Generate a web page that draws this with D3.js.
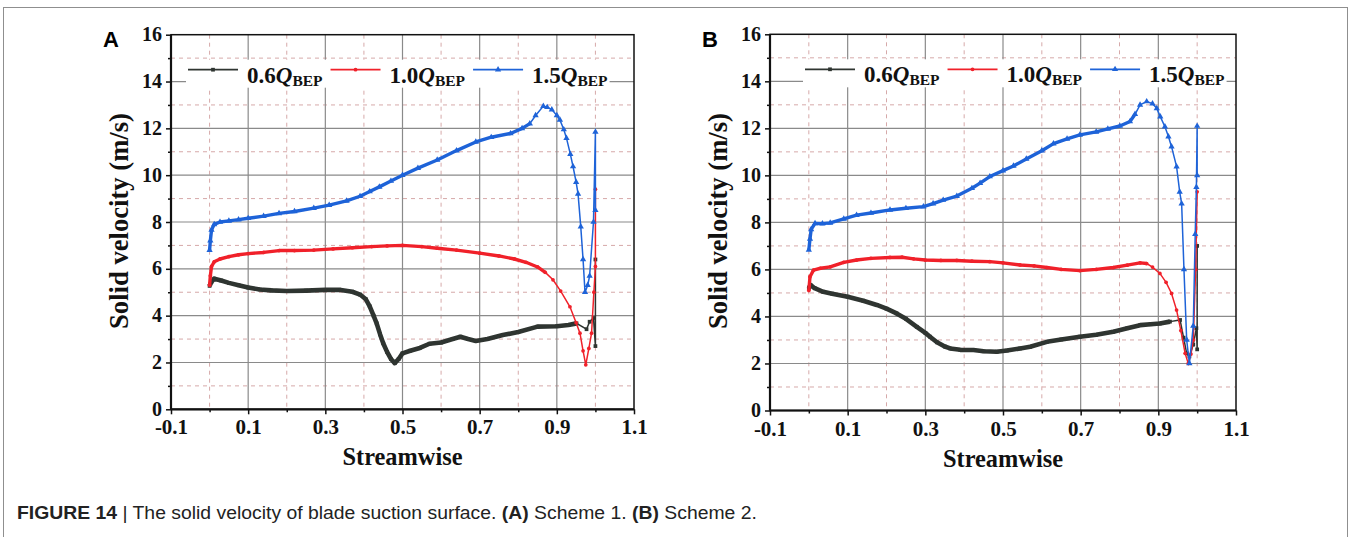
<!DOCTYPE html>
<html>
<head>
<meta charset="utf-8">
<script src="https://cdn.jsdelivr.net/npm/d3@7"></script>
<style>
  body { margin: 0; background: #fff; }
  svg { display: block; }
</style>
</head>
<body>
<svg id="fig" width="1351" height="537"></svg>
<script>
// axis ticks
const xTicks = [-0.1, 0.1, 0.3, 0.5, 0.7, 0.9, 1.1];
const xMinor = [0, 0.2, 0.4, 0.6, 0.8, 1.0];
const yTicks = [0, 2, 4, 6, 8, 10, 12, 14, 16];
const yMinor = [1, 3, 5, 7, 9, 11, 13, 15];
const flowRates = ['0.6', '1.0', '1.5'];

// Scheme 1 (panel A), [streamwise, solid velocity m/s]
const schemeA_06 = [[0.0,5.27],[0.005,5.45],[0.012,5.58],[0.03,5.5],[0.05,5.4],[0.075,5.3],[0.1,5.2],[0.13,5.12],[0.16,5.08],[0.2,5.05],[0.25,5.07],[0.3,5.1],[0.34,5.1],[0.37,5.02],[0.39,4.9],[0.405,4.7],[0.415,4.4],[0.425,4.0],[0.433,3.67],[0.442,3.2],[0.45,2.82],[0.46,2.45],[0.47,2.15],[0.48,1.97],[0.49,2.15],[0.5,2.39],[0.52,2.5],[0.545,2.62],[0.57,2.8],[0.6,2.85],[0.63,3.0],[0.65,3.1],[0.67,3.0],[0.69,2.92],[0.72,3.0],[0.76,3.17],[0.8,3.3],[0.85,3.53],[0.9,3.55],[0.93,3.6],[0.951,3.67],[0.977,3.42],[0.985,3.74],[0.995,3.9],[1.0,2.7],[1.0,6.4]];
const schemeA_10 = [[0.0,5.3],[0.002,5.7],[0.005,6.1],[0.012,6.3],[0.027,6.42],[0.05,6.52],[0.075,6.6],[0.1,6.65],[0.14,6.7],[0.18,6.78],[0.22,6.78],[0.27,6.8],[0.32,6.85],[0.37,6.9],[0.42,6.95],[0.46,6.98],[0.5,7.0],[0.55,6.95],[0.59,6.88],[0.64,6.8],[0.7,6.67],[0.75,6.55],[0.79,6.42],[0.82,6.28],[0.85,6.08],[0.87,5.85],[0.89,5.53],[0.91,5.05],[0.934,4.38],[0.95,3.7],[0.96,3.25],[0.968,2.5],[0.975,1.9],[0.983,2.6],[0.99,3.25],[0.996,5.0],[1.0,6.1],[1.0,9.4]];
const schemeA_15 = [[0.0,6.8],[0.002,7.2],[0.005,7.66],[0.012,7.9],[0.027,8.0],[0.05,8.05],[0.075,8.1],[0.1,8.16],[0.14,8.25],[0.18,8.37],[0.22,8.45],[0.27,8.59],[0.31,8.72],[0.355,8.9],[0.39,9.1],[0.415,9.3],[0.44,9.5],[0.47,9.75],[0.5,10.0],[0.54,10.3],[0.59,10.65],[0.64,11.05],[0.69,11.42],[0.73,11.62],[0.78,11.78],[0.81,12.0],[0.83,12.2],[0.845,12.55],[0.865,12.95],[0.875,12.9],[0.887,12.8],[0.9,12.55],[0.908,12.36],[0.918,11.95],[0.925,11.58],[0.935,10.9],[0.942,10.37],[0.95,9.7],[0.955,9.2],[0.962,7.8],[0.968,6.4],[0.973,5.0],[0.98,5.3],[0.985,5.7],[0.995,8.0],[1.0,11.85],[1.0,8.5]];

// Scheme 2 (panel B)
const schemeB_06 = [[0.0,5.2],[0.004,5.34],[0.015,5.2],[0.037,5.05],[0.06,4.97],[0.1,4.84],[0.14,4.67],[0.175,4.49],[0.2,4.33],[0.226,4.13],[0.25,3.9],[0.278,3.56],[0.3,3.3],[0.312,3.14],[0.33,2.9],[0.35,2.72],[0.364,2.64],[0.39,2.58],[0.424,2.57],[0.45,2.52],[0.484,2.5],[0.51,2.55],[0.544,2.64],[0.57,2.71],[0.613,2.92],[0.65,3.02],[0.698,3.14],[0.74,3.22],[0.784,3.35],[0.82,3.5],[0.853,3.63],[0.88,3.67],[0.904,3.7],[0.93,3.78],[0.956,3.85],[0.965,3.1],[0.973,2.43],[0.98,2.3],[0.99,2.8],[0.998,3.5],[1.0,2.6],[1.0,7.0]];
const schemeB_10 = [[0.0,5.1],[0.003,5.69],[0.012,5.97],[0.03,6.05],[0.055,6.11],[0.09,6.3],[0.123,6.4],[0.16,6.47],[0.209,6.51],[0.24,6.52],[0.27,6.45],[0.3,6.4],[0.34,6.38],[0.381,6.38],[0.42,6.35],[0.466,6.33],[0.5,6.28],[0.544,6.19],[0.58,6.15],[0.613,6.08],[0.65,6.0],[0.698,5.95],[0.74,6.0],[0.784,6.08],[0.82,6.18],[0.853,6.28],[0.87,6.25],[0.885,6.1],[0.904,5.83],[0.92,5.45],[0.934,4.98],[0.947,4.27],[0.958,3.4],[0.969,2.43],[0.977,2.0],[0.984,2.4],[0.99,3.0],[0.996,6.0],[1.0,9.3]];
const schemeB_15 = [[0.0,6.83],[0.003,7.3],[0.006,7.7],[0.016,7.96],[0.035,7.95],[0.055,7.98],[0.09,8.15],[0.123,8.31],[0.16,8.4],[0.209,8.53],[0.25,8.6],[0.295,8.67],[0.32,8.8],[0.346,8.95],[0.381,9.12],[0.42,9.45],[0.441,9.67],[0.466,9.95],[0.5,10.2],[0.527,10.4],[0.56,10.7],[0.6,11.05],[0.63,11.35],[0.665,11.55],[0.698,11.72],[0.74,11.85],[0.77,11.98],[0.801,12.1],[0.827,12.29],[0.84,12.6],[0.853,13.0],[0.87,13.14],[0.885,13.05],[0.896,12.85],[0.905,12.5],[0.917,12.07],[0.926,11.65],[0.934,11.22],[0.947,10.37],[0.955,9.3],[0.96,8.8],[0.966,6.0],[0.973,3.0],[0.98,2.0],[0.99,3.6],[0.995,7.5],[0.998,9.5],[1.0,12.1],[1.0,10.0]];

const panels = [
  { label: 'A', left: 171, right: 634, top: 34.7, bottom: 409.3, legendX: 188, data: [schemeA_06, schemeA_10, schemeA_15] },
  { label: 'B', left: 770, right: 1236, top: 34.3, bottom: 410.5, legendX: 805, data: [schemeB_06, schemeB_10, schemeB_15] },
];

const styles = [
  { color: '#2f3531', symbol: d3.symbolSquare, size: 14, band: 4.6, dense: 0.955 },
  { color: '#f0212a', symbol: d3.symbolCircle, size: 11, band: 3.4, dense: 0.88 },
  { color: '#1e63d8', symbol: d3.symbolTriangle, size: 17, band: 3.4, dense: 0.84 },
];

const serif = "'Liberation Serif', 'Times New Roman', serif";
const sans = "'Liberation Sans', Arial, Helvetica, sans-serif";

const svg = d3.select('#fig');

// outer frame
svg.append('rect')
  .attr('x', 3.5).attr('y', 7.5)
  .attr('width', 1344).attr('height', 545)
  .attr('fill', 'none')
  .attr('stroke', '#8f8f8f')
  .attr('stroke-width', 1);

// shrink or grow a text until it is `w` pixels long
function fitWidth(sel, w) {
  const fs = +sel.attr('font-size');
  const len = sel.node().getComputedTextLength();
  sel.attr('font-size', (fs * w) / len);
}

function drawPanel(p) {
  const x = d3.scaleLinear().domain([-0.1, 1.1]).range([p.left, p.right]);
  const y = d3.scaleLinear().domain([0, 16]).range([p.bottom, p.top]);
  const g = svg.append('g');

  // grid
  g.append('g').selectAll('line').data(xMinor).join('line')
    .attr('x1', (d) => x(d)).attr('x2', (d) => x(d))
    .attr('y1', p.top).attr('y2', p.bottom)
    .attr('stroke', '#d6a9a9').attr('stroke-dasharray', '4,4');
  g.append('g').selectAll('line').data(yMinor).join('line')
    .attr('y1', (d) => y(d)).attr('y2', (d) => y(d))
    .attr('x1', p.left).attr('x2', p.right)
    .attr('stroke', '#d6a9a9').attr('stroke-dasharray', '4,4');
  g.append('g').selectAll('line').data(xTicks.slice(1, -1)).join('line')
    .attr('x1', (d) => x(d)).attr('x2', (d) => x(d))
    .attr('y1', p.top).attr('y2', p.bottom)
    .attr('stroke', '#8a8a8a').attr('stroke-width', 1.2);
  g.append('g').selectAll('line').data(yTicks.slice(1, -1)).join('line')
    .attr('y1', (d) => y(d)).attr('y2', (d) => y(d))
    .attr('x1', p.left).attr('x2', p.right)
    .attr('stroke', '#8a8a8a').attr('stroke-width', 1.2);

  // series
  const line = d3.line().x((d) => x(d[0])).y((d) => y(d[1]));
  p.data.forEach((series, i) => {
    const s = styles[i];
    g.append('path')
      .datum(series.filter((d) => d[0] <= s.dense))
      .attr('d', line)
      .attr('fill', 'none')
      .attr('stroke', s.color)
      .attr('stroke-width', s.band)
      .attr('stroke-linejoin', 'round');
    g.append('path')
      .datum(series)
      .attr('d', line)
      .attr('fill', 'none')
      .attr('stroke', s.color)
      .attr('stroke-width', 1.5);
    g.append('g').selectAll('path').data(series).join('path')
      .attr('transform', (d) => `translate(${x(d[0])},${y(d[1])})`)
      .attr('d', d3.symbol(s.symbol, s.size))
      .attr('fill', s.color);
  });

  // legend
  const lg = g.append('g');
  const bg = lg.append('rect').attr('fill', '#fff');
  let lx = p.legendX;
  const ly = p.top + 35;
  flowRates.forEach((q, i) => {
    const s = styles[i];
    lg.append('line')
      .attr('x1', lx).attr('x2', lx + 50)
      .attr('y1', ly).attr('y2', ly)
      .attr('stroke', s.color).attr('stroke-width', 1.8);
    lg.append('path')
      .attr('transform', `translate(${lx + 25},${ly})`)
      .attr('d', d3.symbol(s.symbol, s.size))
      .attr('fill', s.color);
    const t = lg.append('text')
      .attr('x', lx + 59).attr('y', ly + 13)
      .attr('font-family', serif).attr('font-weight', 'bold')
      .attr('font-size', 23).attr('fill', '#111');
    t.append('tspan').text(q);
    t.append('tspan').attr('font-style', 'italic').text('Q');
    t.append('tspan').attr('font-size', 15.5).attr('dy', 3).text('BEP');
    lx = lx + 59 + t.node().getComputedTextLength() + 8;
  });
  bg.attr('x', p.legendX - 2).attr('y', ly - 10)
    .attr('width', lx - p.legendX - 4).attr('height', 28);

  // axes
  const xAxis = g.append('g')
    .attr('transform', `translate(0,${p.bottom})`)
    .call(d3.axisBottom(x).tickValues(xTicks).tickSize(5).tickFormat((d) => d.toFixed(1)));
  const yAxis = g.append('g')
    .attr('transform', `translate(${p.left},0)`)
    .call(d3.axisLeft(y).tickValues(yTicks).tickSize(5).tickFormat(d3.format('d')));
  g.append('g').attr('transform', `translate(${p.left},0)`)
    .call(d3.axisLeft(y).tickValues(yMinor).tickSize(3).tickFormat(''))
    .call((a) => a.select('.domain').remove());
  g.append('g').attr('transform', `translate(0,${p.bottom})`)
    .call(d3.axisBottom(x).tickValues(xMinor).tickSize(3).tickFormat(''))
    .call((a) => a.select('.domain').remove());
  [xAxis, yAxis].forEach((a) => {
    a.select('.domain').remove();
    a.selectAll('text')
      .style('font-family', serif).style('font-weight', 'bold')
      .attr('fill', '#111');
  });
  xAxis.selectAll('text').style('font-size', '21px').attr('dy', 0).attr('y', 25);
  yAxis.selectAll('text').style('font-size', '20px').attr('x', -9).attr('dy', '0.3em');
  g.selectAll('.tick line').attr('stroke', '#111').attr('stroke-width', 1.5);

  // frame
  g.append('rect')
    .attr('x', p.left).attr('y', p.top)
    .attr('width', p.right - p.left).attr('height', p.bottom - p.top)
    .attr('fill', 'none').attr('stroke', '#111').attr('stroke-width', 1.5);
  g.append('line')
    .attr('x1', p.left).attr('x2', p.left).attr('y1', p.top).attr('y2', p.bottom)
    .attr('stroke', '#111').attr('stroke-width', 2.2);
  g.append('line')
    .attr('x1', p.left).attr('x2', p.right).attr('y1', p.bottom).attr('y2', p.bottom)
    .attr('stroke', '#111').attr('stroke-width', 2.2);

  // axis titles
  const yt = g.append('text')
    .attr('transform', `translate(${p.left - 43},221) rotate(-90)`)
    .attr('text-anchor', 'middle')
    .attr('font-family', serif).attr('font-weight', 'bold').attr('font-size', 24)
    .attr('fill', '#111')
    .text('Solid velocity (m/s)');
  fitWidth(yt, 216);
  const xt = g.append('text')
    .attr('x', (p.left + p.right) / 2).attr('y', p.bottom + 56)
    .attr('text-anchor', 'middle')
    .attr('font-family', serif).attr('font-weight', 'bold').attr('font-size', 24)
    .attr('fill', '#111')
    .text('Streamwise');
  fitWidth(xt, 120);

  // panel letter
  g.append('text')
    .attr('x', p.left - 68).attr('y', 47)
    .attr('font-family', sans).attr('font-weight', 'bold').attr('font-size', 22)
    .attr('fill', '#000')
    .text(p.label);
}

panels.forEach(drawPanel);

// caption
const cap = svg.append('text')
  .attr('x', 17).attr('y', 519)
  .attr('font-family', sans).attr('font-size', 18.5).attr('fill', '#222');
cap.append('tspan').attr('font-weight', 'bold').text('FIGURE 14');
cap.append('tspan').text(' | The solid velocity of blade suction surface. ');
cap.append('tspan').attr('font-weight', 'bold').text('(A)');
cap.append('tspan').text(' Scheme 1. ');
cap.append('tspan').attr('font-weight', 'bold').text('(B)');
cap.append('tspan').text(' Scheme 2.');
const capW = cap.node().getComputedTextLength();
cap.attr('transform', `translate(17,0) scale(${740 / capW},1) translate(-17,0)`);
</script>
</body>
</html>
